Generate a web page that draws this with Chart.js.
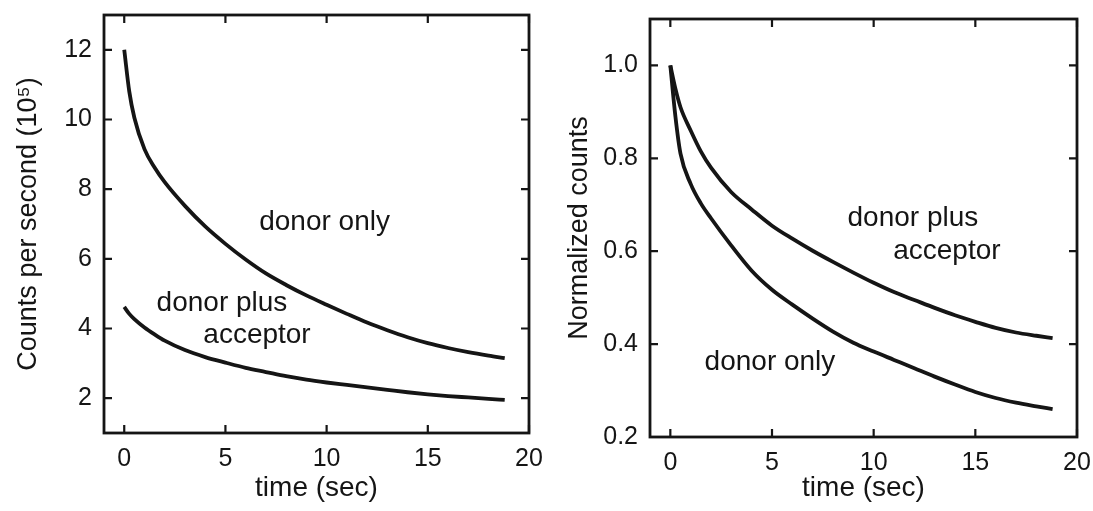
<!DOCTYPE html>
<html>
<head>
<meta charset="utf-8">
<script src="https://cdn.jsdelivr.net/npm/chart.js@4"></script>
<style>
  body { margin: 0; background: #fff; }
  .panel { position: absolute; top: 0; }
</style>
</head>
<body>
<div class="panel" style="left:0"><canvas id="leftChart" width="545" height="511"></canvas></div>
<div class="panel" style="left:545px"><canvas id="rightChart" width="548" height="511"></canvas></div>
<script>
// time axis (sec), shared by all four traces
const time = [0, 0.25, 0.5, 1, 1.5, 2, 3, 4, 5, 6, 7, 8, 9, 10, 11, 12, 13, 14, 15, 16, 17, 18, 18.8];

// left panel: counts per second (10^5)
const countsDonorOnly = [12.0, 10.8, 10.05, 9.15, 8.62, 8.2, 7.52, 6.93, 6.43, 5.98, 5.58, 5.25, 4.95, 4.68, 4.42, 4.17, 3.95, 3.75, 3.58, 3.44, 3.32, 3.22, 3.15];
const countsDonorAcceptor = [4.62, 4.42, 4.27, 4.03, 3.83, 3.65, 3.38, 3.18, 3.02, 2.87, 2.75, 2.63, 2.53, 2.45, 2.38, 2.31, 2.24, 2.17, 2.11, 2.06, 2.02, 1.98, 1.95];

// right panel: normalized counts
const normDonorOnly = [1.0, 0.89, 0.81, 0.745, 0.703, 0.671, 0.612, 0.558, 0.517, 0.485, 0.455, 0.427, 0.403, 0.384, 0.366, 0.348, 0.33, 0.313, 0.297, 0.284, 0.274, 0.266, 0.26];
const normDonorAcceptor = [1.0, 0.95, 0.91, 0.86, 0.815, 0.78, 0.727, 0.69, 0.655, 0.627, 0.601, 0.577, 0.554, 0.532, 0.512, 0.495, 0.478, 0.462, 0.448, 0.435, 0.425, 0.418, 0.413];

// tick labels
const xTicks = [0, 5, 10, 15, 20];
const leftYTicks = [2, 4, 6, 8, 10, 12];
const rightYTicks = [0.2, 0.4, 0.6, 0.8, 1.0];

// curve labels, placed in data coordinates
const leftNotes = [
  { text: "donor only", x: 9.9, y: 7.05 },
  { text: "donor plus", x: 4.83, y: 4.72 },
  { text: "acceptor", x: 6.56, y: 3.8 },
];
const rightNotes = [
  { text: "donor plus", x: 11.93, y: 0.672 },
  { text: "acceptor", x: 13.6, y: 0.6 },
  { text: "donor only", x: 4.9, y: 0.36 },
];

const FONT = "'Liberation Sans', Arial, Helvetica, sans-serif";
const INK = "#151515";

function pts(xs, ys) {
  return xs.map((x, i) => ({ x: x, y: ys[i] }));
}

// box around the plot with inward ticks on all four sides, plus the curve labels
function framePlugin(notes) {
  return {
    id: "frame",
    afterDraw(chart) {
      const { ctx, chartArea: a, scales } = chart;
      const tl = 8;
      ctx.save();
      ctx.strokeStyle = INK;
      ctx.lineWidth = 2.8;
      ctx.strokeRect(a.left, a.top, a.right - a.left, a.bottom - a.top);
      ctx.lineWidth = 2.2;
      ctx.beginPath();
      scales.x.ticks.forEach(t => {
        const px = scales.x.getPixelForValue(t.value);
        ctx.moveTo(px, a.bottom); ctx.lineTo(px, a.bottom - tl);
        ctx.moveTo(px, a.top); ctx.lineTo(px, a.top + tl);
      });
      scales.y.ticks.forEach(t => {
        const py = scales.y.getPixelForValue(t.value);
        ctx.moveTo(a.left, py); ctx.lineTo(a.left + tl, py);
        ctx.moveTo(a.right, py); ctx.lineTo(a.right - tl, py);
      });
      ctx.stroke();

      ctx.fillStyle = INK;
      ctx.font = "28px " + FONT;
      ctx.textAlign = "center";
      ctx.textBaseline = "middle";
      notes.forEach(n => {
        ctx.fillText(n.text, scales.x.getPixelForValue(n.x), scales.y.getPixelForValue(n.y));
      });
      ctx.restore();
    }
  };
}

function makeChart(id, opts) {
  const line = data => ({
    data: data,
    borderColor: INK,
    borderWidth: 3.8,
    pointRadius: 0,
    cubicInterpolationMode: "monotone",
    fill: false,
  });
  return new Chart(document.getElementById(id), {
    type: "line",
    data: { datasets: opts.series.map(line) },
    options: {
      responsive: false,
      animation: false,
      layout: { padding: opts.padding },
      plugins: { legend: { display: false }, tooltip: { enabled: false } },
      scales: {
        x: {
          type: "linear",
          min: -1,
          max: 20,
          afterBuildTicks: s => { s.ticks = xTicks.map(v => ({ value: v })); },
          afterFit: s => { s.height = opts.xHeight; s.paddingLeft = 0; s.paddingRight = 0; },
          grid: { display: false, drawTicks: false },
          border: { display: false },
          ticks: { color: INK, font: { family: FONT, size: 25 }, padding: 11, autoSkip: false, maxRotation: 0 },
          title: { display: true, text: "time (sec)", color: INK, font: { family: FONT, size: 28 }, padding: { bottom: 6 } },
        },
        y: {
          min: opts.yMin,
          max: opts.yMax,
          afterBuildTicks: s => { s.ticks = opts.yTicks.map(v => ({ value: v })); },
          afterFit: s => { s.width = opts.yWidth; s.paddingTop = 0; s.paddingBottom = 0; },
          grid: { display: false, drawTicks: false },
          border: { display: false },
          ticks: { color: INK, font: { family: FONT, size: 25 }, padding: 12, callback: opts.yFormat },
          title: { display: true, text: opts.yTitle, color: INK, font: { family: FONT, size: 27 }, padding: { top: opts.yTitlePad } },
        },
      },
    },
    plugins: [framePlugin(opts.notes)],
  });
}

makeChart("leftChart", {
  series: [pts(time, countsDonorOnly), pts(time, countsDonorAcceptor)],
  padding: { top: 15, right: 16, left: 0, bottom: 0 },
  xHeight: 78,
  yWidth: 104,
  yMin: 1,
  yMax: 13,
  yTicks: leftYTicks,
  yFormat: v => String(v),
  yTitle: "Counts per second (10\u2075)",
  yTitlePad: 12,
  notes: leftNotes,
});

makeChart("rightChart", {
  series: [pts(time, normDonorOnly), pts(time, normDonorAcceptor)],
  padding: { top: 19, right: 16, left: 0, bottom: 0 },
  xHeight: 74,
  yWidth: 105,
  yMin: 0.2,
  yMax: 1.1,
  yTicks: rightYTicks,
  yFormat: v => v.toFixed(1),
  yTitle: "Normalized counts",
  yTitlePad: 18,
  notes: rightNotes,
});
</script>
</body>
</html>
